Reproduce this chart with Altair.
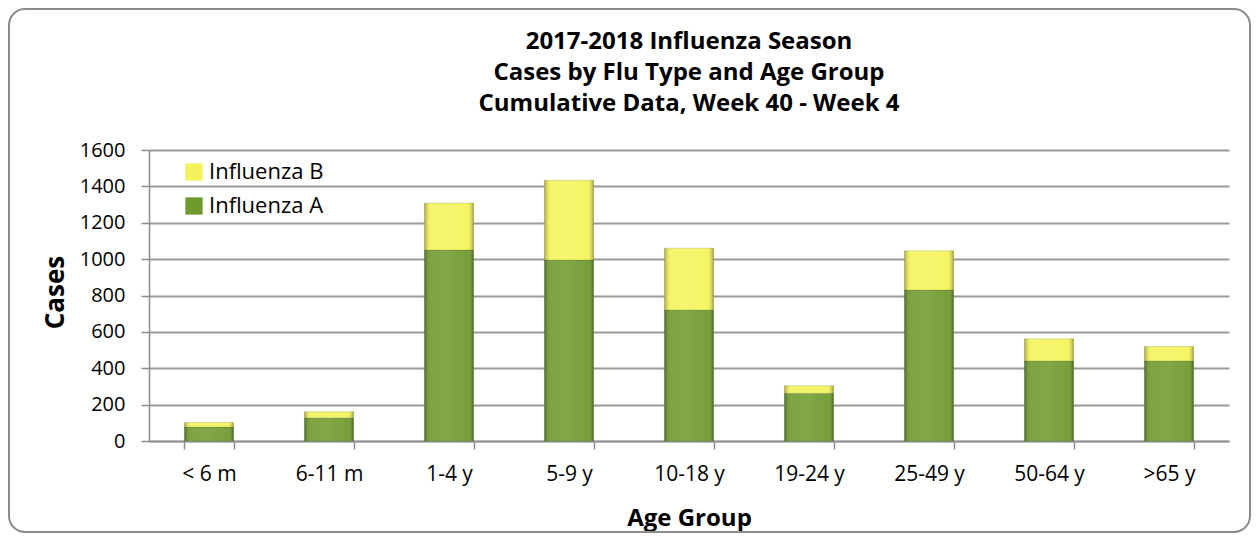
import altair as alt
import pandas as pd

ages = ["< 6 m", "6-11 m", "1-4 y", "5-9 y", "10-18 y", "19-24 y", "25-49 y", "50-64 y", ">65 y"]
flu_a = [77, 128, 1050, 995, 720, 262, 830, 440, 440]
flu_b = [25, 33, 258, 438, 340, 42, 216, 122, 80]
types = ["Influenza B", "Influenza A"]
colors = ["#f4f45a", "#6f9a2e"]
title_lines = ["2017-2018 Influenza Season", "Cases by Flu Type and Age Group", "Cumulative Data, Week 40 - Week 4"]
y_ticks = [0, 200, 400, 600, 800, 1000, 1200, 1400, 1600]

rows = []
for i, a in enumerate(ages):
    rows.append({"Age": a, "Type": "Influenza A", "Cases": flu_a[i], "ord": 0})
    rows.append({"Age": a, "Type": "Influenza B", "Cases": flu_b[i], "ord": 1})
df = pd.DataFrame(rows)

FONT = "Open Sans"
W, H = 1080, 291

x_enc = alt.X("Age:N", sort=ages, title="Age Group",
              scale=alt.Scale(paddingInner=0.59, paddingOuter=0.295),
              axis=alt.Axis(labelAngle=0, tickBand="extent", tickSize=8, labelPadding=14,
                            labelFontSize=21,
                            titleY=84, titleBaseline="alphabetic", titleFontSize=24,
                            domainColor="#8c8c8c", tickColor="#8c8c8c", domainWidth=1.5, tickWidth=1.5))
y_enc = alt.Y("sum(Cases):Q", stack="zero", title="Cases",
              scale=alt.Scale(domain=[0, 1600], nice=False),
              axis=alt.Axis(values=y_ticks, format="d", tickSize=8, labelPadding=16,
                            labelFontSize=20, labelOverlap=False,
                            titleX=-94, titleY=142, titleBaseline="middle", titleFontSize=26,
                            gridColor="#9a9a9a", gridWidth=2,
                            domainColor="#8c8c8c", tickColor="#8c8c8c", domainWidth=1.5, tickWidth=1.5))

base = alt.Chart(df)

bars = base.mark_bar(stroke="#4a6420", strokeWidth=0.5, strokeOpacity=0.4).encode(
    x=x_enc,
    y=y_enc,
    color=alt.Color("Type:N", scale=alt.Scale(domain=types, range=colors),
                    legend=alt.Legend(title=None, orient="none", legendX=34, legendY=11,
                                      padding=0, symbolType="square", symbolSize=300,
                                      symbolStrokeWidth=0, labelFontSize=22, labelFont=FONT,
                                      rowPadding=12, labelOffset=4, labelColor="#000000")),
    order=alt.Order("ord:Q"),
)

shade = base.mark_bar(
    color=alt.Gradient(
        gradient="linear", x1=0, x2=1, y1=0, y2=0,
        stops=[
            alt.GradientStop(color="rgba(0,0,0,0.30)", offset=0),
            alt.GradientStop(color="rgba(255,255,255,0.10)", offset=0.12),
            alt.GradientStop(color="rgba(255,255,255,0.12)", offset=0.5),
            alt.GradientStop(color="rgba(255,255,255,0.05)", offset=0.88),
            alt.GradientStop(color="rgba(0,0,0,0.35)", offset=1),
        ],
    )
).encode(
    x=x_enc,
    y=y_enc,
    detail="Type:N",
    order=alt.Order("ord:Q"),
)

border = alt.Chart(pd.DataFrame({"k": [0]})).mark_rect(
    filled=False, stroke="#8c8c8c", strokeWidth=2, cornerRadius=16
).encode(
    x=alt.value(-140), x2=alt.value(1101),
    y=alt.value(-141), y2=alt.value(382),
)

chart = alt.layer(border, bars, shade).properties(
    width=W, height=H,
    title=alt.TitleParams(text=title_lines, fontSize=24, font=FONT, fontWeight="bold",
                          anchor="middle", frame="group", lineHeight=31, offset=-132,
                          baseline="bottom", color="#000000"),
    autosize=alt.AutoSizeParams(type="none"),
    padding={"left": 141, "top": 142, "right": 22, "bottom": 92},
).configure_view(strokeWidth=0).configure_axis(
    labelFont=FONT, labelColor="#000000",
    titleFont=FONT, titleFontWeight="bold", titleColor="#000000",
).configure_axisX(grid=False)

chart.save("out.html", embed_options={"renderer": "svg", "actions": False})
